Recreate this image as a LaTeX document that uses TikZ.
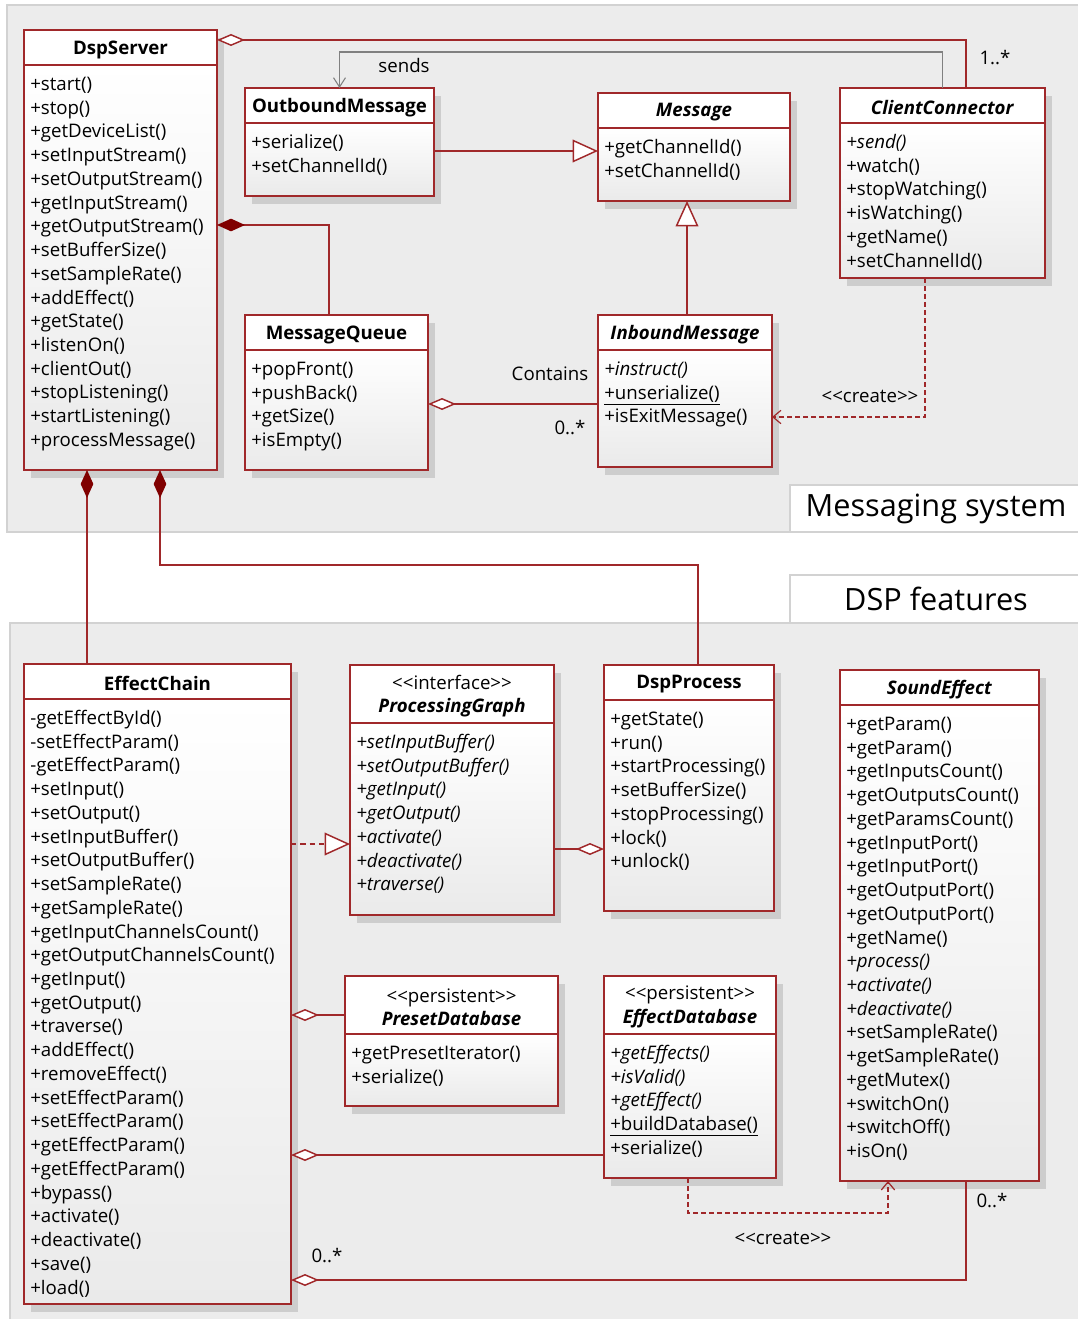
\documentclass[tikz,border=0pt]{standalone}
\usepackage{fontspec}
\setmainfont{Open Sans}[Ligatures=TeXOff]
\usetikzlibrary{arrows.meta,calc}

\definecolor{umlred}{HTML}{A0282A}
\definecolor{diamondred}{HTML}{800000}
\definecolor{panelgray}{HTML}{ECECEC}
\definecolor{panelborder}{HTML}{D2D2D2}
\definecolor{umlshadow}{HTML}{CDCDCD}
\definecolor{bodygray}{HTML}{EAEAEA}
\definecolor{sendgray}{HTML}{808080}

\newcommand{\pxu}{0.75pt}
\newcommand{\stereo}[1]{<\kern0pt<#1>\kern0pt>}
% name, left, top, right, bottom, header line, title, operations
\newcommand{\umlclass}[8]{%
  \fill[umlshadow] (#2+7,#3+8) rectangle (#4+7,#5+8);
  \shade[top color=white, bottom color=bodygray] (#2,#6) rectangle (#4,#5);
  \fill[white] (#2,#3) rectangle (#4,#6);
  \node[classframe, minimum width={(#4-#2)*\pxu}, minimum height={(#5-#3)*\pxu}] (#1) at (#2,#3) {};
  \draw[umlline] (#2,#6) -- (#4,#6);
  \node[classtitle] (#1t) at ({(#2+#4)/2},{(#3+#6)/2+2}) {#7};
  \node[methods] (#1m) at (#2+6,#6+10.5) {\rule{0pt}{11pt}#8};
}

\begin{document}
\begin{tikzpicture}[x=0.75pt, y=-0.75pt,
  classframe/.style={rectangle, draw=umlred, line width=1.1pt, inner sep=0pt, outer sep=0pt, anchor=north west},
  classtitle/.style={align=center, inner sep=0pt, font=\fontsize{14}{17.5}\selectfont},
  methods/.style={anchor=north west, align=left, inner sep=0pt, font=\fontsize{14}{17.8}\selectfont},
  umlline/.style={draw=umlred, line width=1.1pt},
  aggr/.style={umlline, {Diamond[fill=white,length=21pt,width=9pt]}-},
  compo/.style={umlline, {Diamond[fill=diamondred,color=diamondred,length=21pt,width=9.5pt]}-},
  gener/.style={umlline, -{Triangle[fill=white,length=19pt,width=17pt]}},
  realize/.style={gener, dash pattern=on 4pt off 3pt},
  create/.style={umlline, line width=0.9pt, dash pattern=on 3.5pt off 2.5pt, -{Straight Barb[length=6pt,width=10pt]}},
  sendline/.style={draw=sendgray, line width=0.8pt, -{Straight Barb[length=7pt,width=9pt]}},
  lbl/.style={inner sep=0pt, font=\fontsize{14}{17}\selectfont},
  grouplbl/.style={inner sep=0pt, font=\fontsize{23}{28}\selectfont}]
\useasboundingbox (0,0) rectangle (1077,1319);

% packages
\filldraw[fill=panelgray, draw=panelborder, line width=0.8pt] (7,5) rectangle (1085,532);
\filldraw[fill=panelgray, draw=panelborder, line width=0.8pt] (10,623) rectangle (1085,1325);
\filldraw[fill=white, draw=panelborder, line width=0.8pt] (790,485) rectangle (1085,532);
\filldraw[fill=white, draw=panelborder, line width=0.8pt] (790,575) rectangle (1085,623);
\node[grouplbl] (msgsys) at (936,509) {Messaging system};
\node[grouplbl] (dspfeat) at (936,599) {DSP features};

% messaging system
\umlclass{dspserver}{24}{30}{217}{470}{65}{\textbf{DspServer}}{+start()\\+stop()\\+getDeviceList()\\+setInputStream()\\+setOutputStream()\\+getInputStream()\\+getOutputStream()\\+setBufferSize()\\+setSampleRate()\\+addEffect()\\+getState()\\+listenOn()\\+clientOut()\\+stopListening()\\+startListening()\\+processMessage()}
\umlclass{outmsg}{245}{88}{434}{196}{123}{\textbf{OutboundMessage}}{+serialize()\\+setChannelId()}
\umlclass{message}{598}{93}{790}{201}{128}{\textbf{\textit{Message}}}{+getChannelId()\\+setChannelId()}
\umlclass{clientconn}{840}{88}{1045}{278}{123}{\textbf{\textit{ClientConnector}}}{\textit{+send()}\\+watch()\\+stopWatching()\\+isWatching()\\+getName()\\+setChannelId()}
\umlclass{msgqueue}{245}{315}{428}{470}{350}{\textbf{MessageQueue}}{+popFront()\\+pushBack()\\+getSize()\\+isEmpty()}
\umlclass{inmsg}{598}{315}{772}{467}{350}{\textbf{\textit{InboundMessage}}}{\textit{+instruct()}\\\underline{+unserialize()}\\+isExitMessage()}

% dsp features
\umlclass{effchain}{24}{664}{291}{1304}{699}{\textbf{EffectChain}}{-getEffectById()\\-setEffectParam()\\-getEffectParam()\\+setInput()\\+setOutput()\\+setInputBuffer()\\+setOutputBuffer()\\+setSampleRate()\\+getSampleRate()\\+getInputChannelsCount()\\+getOutputChannelsCount()\\+getInput()\\+getOutput()\\+traverse()\\+addEffect()\\+removeEffect()\\+setEffectParam()\\+setEffectParam()\\+getEffectParam()\\+getEffectParam()\\+bypass()\\+activate()\\+deactivate()\\+save()\\+load()}
\umlclass{procgraph}{350}{665}{554}{915}{723}{\stereo{interface}\\\textbf{\textit{ProcessingGraph}}}{\textit{+setInputBuffer()}\\\textit{+setOutputBuffer()}\\\textit{+getInput()}\\\textit{+getOutput()}\\\textit{+activate()}\\\textit{+deactivate()}\\\textit{+traverse()}}
\umlclass{dspproc}{604}{665}{774}{911}{700}{\textbf{DspProcess}}{+getState()\\+run()\\+startProcessing()\\+setBufferSize()\\+stopProcessing()\\+lock()\\+unlock()}
\umlclass{soundfx}{840}{670}{1039}{1181}{705}{\textbf{\textit{SoundEffect}}}{+getParam()\\+getParam()\\+getInputsCount()\\+getOutputsCount()\\+getParamsCount()\\+getInputPort()\\+getInputPort()\\+getOutputPort()\\+getOutputPort()\\+getName()\\\textit{+process()}\\\textit{+activate()}\\\textit{+deactivate()}\\+setSampleRate()\\+getSampleRate()\\+getMutex()\\+switchOn()\\+switchOff()\\+isOn()}
\umlclass{presetdb}{345}{976}{558}{1106}{1034}{\stereo{persistent}\\\textbf{\textit{PresetDatabase}}}{+getPresetIterator()\\+serialize()}
\umlclass{effdb}{604}{976}{776}{1178}{1034}{\stereo{persistent}\\\textbf{\textit{EffectDatabase}}}{\textit{+getEffects()}\\\textit{+isValid()}\\\textit{+getEffect()}\\\underline{+buildDatabase()}\\+serialize()}

% connectors, top
\draw[aggr] ($(dspserver.north east)+(0,10)$) -| ($(clientconn.north)+(23.5,0)$);
\node[lbl] (clientmult) at (995,58) {1..*};
\draw[sendline] (clientconn.north) -- ($(clientconn.north)+(0,-36)$) -| (outmsg.north);
\node[lbl] (sendslbl) at (404,66) {sends};
\draw[gener] ($(outmsg.east)+(0,9)$) coordinate (outgen) -- (outgen -| message.west);
\draw[gener] ($(inmsg.north)+(2,0)$) coordinate (ingen) -- (ingen |- message.south);
\draw[compo] ($(dspserver.east)+(0,-25)$) -| ($(msgqueue.north)+(-7.5,0)$);
\draw[aggr] ($(msgqueue.east)+(0,11.5)$) coordinate (qagg) -- (qagg -| inmsg.west);
\node[lbl] (containslbl) at (550,374) {Contains};
\node[lbl] (qmult) at (570,428) {0..*};
\draw[create] ($(clientconn.south)+(-17.5,0)$) |- ($(inmsg.east)+(0,26)$);
\node[lbl] (createtop) at (870,396) {\stereo{create}};

% connectors, bottom
\draw[compo] ($(dspserver.south)+(-33.5,0)$) coordinate (chaincomp) -- (chaincomp |- effchain.north);
\draw[compo] ($(dspserver.south)+(39.5,0)$) -- ++(0,95) -| ($(dspproc.north)+(9,0)$);
\draw[realize] ($(effchain.east)+(0,-140)$) coordinate (chainreal) -- (chainreal -| procgraph.west);
\draw[aggr] ($(dspproc.west)+(0,61)$) coordinate (procagg) -- (procagg -| procgraph.east);
\draw[aggr] ($(effchain.east)+(0,31)$) coordinate (presetagg) -- (presetagg -| presetdb.west);
\draw[aggr] ($(effchain.east)+(0,171)$) coordinate (effdbagg) -- (effdbagg -| effdb.west);
\draw[aggr] ($(effchain.east)+(0,296)$) -| ($(soundfx.south)+(26.5,0)$);
\node[lbl] (chainmult) at (327,1256) {0..*};
\node[lbl] (fxmult) at (992,1201) {0..*};
\draw[create] ($(effdb.south)+(-2,0)$) -- ++(0,35) -| ($(soundfx.south)+(-51.5,0)$);
\node[lbl] (createbot) at (783,1238) {\stereo{create}};
\end{tikzpicture}
\end{document}
